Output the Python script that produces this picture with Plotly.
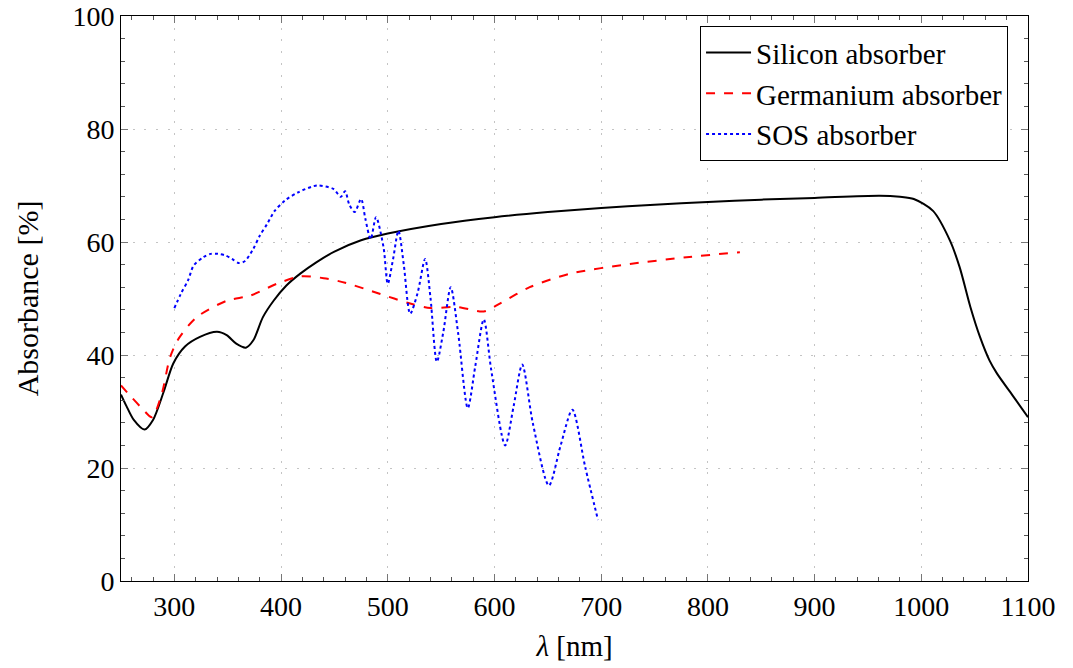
import plotly.graph_objects as go

# Silicon absorber
si_x = [250, 255, 262, 272, 280, 290, 299, 310, 324, 340, 349, 358, 367, 374, 383, 393, 405, 418, 433, 450,
        475, 500, 550, 600, 650, 700, 750, 800, 850, 900, 961, 980, 993, 1011, 1027, 1036, 1046, 1055, 1064,
        1071, 1085, 1100]
si_y = [33, 31, 28.5, 26.8, 28.5, 33.5, 38.5, 41.5, 43.2, 44.1, 43.5, 42, 41.3, 42.6, 46.7, 49.6, 52.3, 54.4,
        56.4, 58.3, 60.3, 61.5, 63.2, 64.4, 65.3, 66, 66.6, 67.1, 67.5, 67.8, 68.2, 68, 67.6, 65.5, 60.2, 55.5,
        48.5, 43.2, 39, 36.7, 33, 29]

# Germanium absorber
ge_x = [250, 260, 270, 279, 288, 296, 304, 321, 349, 371, 396, 418, 440, 460, 493, 521, 540, 565, 590, 605,
        633, 671, 727, 780, 830]
ge_y = [34.6, 32.5, 30.5, 29, 33, 39.6, 42.9, 46.7, 49.6, 50.5, 52.6, 53.9, 53.6, 52.8, 50.8, 49.1, 48.3,
        48.5, 47.7, 49.1, 52, 54.4, 56.1, 57.3, 58.2]

# SOS absorber
sos_x = [300, 306, 313, 318, 327, 334, 341, 348, 354, 360, 366, 374, 380, 387, 394, 404, 416, 429, 435, 449,
         456, 460, 464, 469, 475, 479, 484, 489, 496, 500, 505, 510, 515, 521, 528, 535, 540, 546, 552, 559,
         566, 575, 582, 590, 597, 610, 618, 626, 636, 651, 662, 673, 685, 697]
sos_y = [48.3, 50.8, 53.3, 55.8, 57.3, 57.9, 57.9, 57.6, 57, 56.3, 56.6, 58.8, 61.1, 63.2, 65.5, 67.4, 68.8,
         69.8, 70, 69.4, 68, 69, 66.6, 65.3, 67.6, 64.1, 60.5, 64.4, 59.1, 52.6, 57, 62, 56, 47.3, 51, 57,
         50.2, 38.8, 44, 52, 43.8, 30.6, 38, 46.3, 37.3, 24, 31, 38.3, 27.9, 16.9, 24, 30.3, 20.2, 10.8]

x_ticks = [300, 400, 500, 600, 700, 800, 900, 1000, 1100]
y_ticks = [0, 20, 40, 60, 80, 100]
series_names = ["Silicon absorber", "Germanium absorber", "SOS absorber"]

FONT = "Liberation Serif, serif"
FS = 28

fig = go.Figure()
fig.add_trace(go.Scatter(x=si_x, y=si_y, mode="lines", name=series_names[0],
                         line=dict(color="black", width=2, shape="spline", smoothing=0.8)))
fig.add_trace(go.Scatter(x=ge_x, y=ge_y, mode="lines", name=series_names[1],
                         line=dict(color="red", width=2, dash="dash", shape="spline", smoothing=0.8)))
fig.add_trace(go.Scatter(x=sos_x, y=sos_y, mode="lines", name=series_names[2],
                         line=dict(color="blue", width=2, dash="dot", shape="spline", smoothing=0.8)))

axis_common = dict(
    showline=True, linecolor="black", linewidth=1, mirror="allticks",
    ticks="inside", ticklen=7, tickcolor="#777777", tickwidth=1,
    showgrid=True, gridcolor="#c4c4c4", griddash="2px,9.7px", gridwidth=1,
    zeroline=False, automargin=False, ticklabeloverflow="allow",
    tickfont=dict(family=FONT, size=FS, color="black"),
)

fig.update_xaxes(range=[250, 1100], tickvals=x_ticks, ticktext=[str(v) for v in x_ticks],
                 minor=dict(dtick=20, tick0=0, ticks="inside", ticklen=4, tickcolor="#555555", showgrid=False),
                 title=dict(text="<i>λ</i> [nm]", font=dict(family=FONT, size=29, color="black")),
                 **axis_common)
fig.update_yaxes(range=[0, 100], tickvals=y_ticks, ticktext=[str(v) for v in y_ticks],
                 minor=dict(dtick=4, tick0=0, ticks="inside", ticklen=4, tickcolor="#555555", showgrid=False),
                 title=dict(text="Absorbance [%]", font=dict(family=FONT, size=30, color="black"), standoff=24),
                 **axis_common)

fig.update_layout(
    width=1073, height=668,
    margin=dict(l=121, r=45, t=16, b=87),
    plot_bgcolor="white", paper_bgcolor="white",
    font=dict(family=FONT, size=FS, color="black"),
    showlegend=True,
    legend=dict(x=0.978, y=0.982, xanchor="right", yanchor="top",
                bordercolor="black", borderwidth=1, bgcolor="white",
                font=dict(family=FONT, size=29, color="black"),
                itemwidth=45, entrywidth=300, entrywidthmode="pixels",
                tracegroupgap=0),
)

fig.write_html("out.html")
